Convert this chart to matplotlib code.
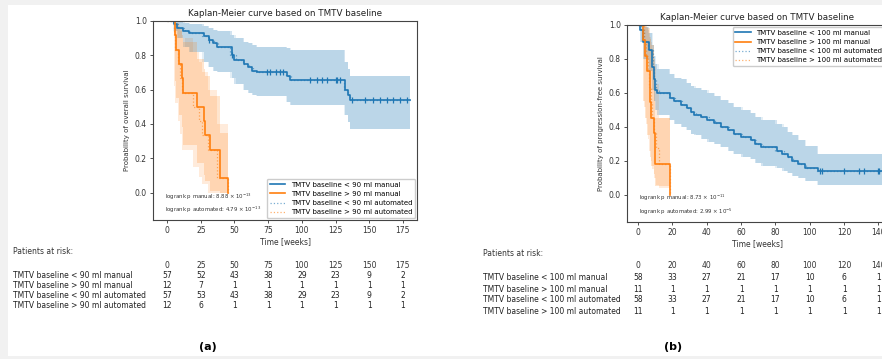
import numpy as np
import matplotlib.pyplot as plt
import matplotlib.transforms as mtransforms
from matplotlib.patches import Rectangle

"""
Data read off the picture
"""
# panel (a): overall survival, TMTV baseline 90 ml
a_low_man_t = [0, 5, 7, 12, 16, 27, 31, 34, 37, 48, 50, 57, 60, 63, 67, 89, 91, 132, 134, 136]
a_low_man_s = [1.0, .98, .96, .94, .93, .91, .89, .87, .85, .80, .77, .75, .73, .71, .70, .68, .655, .60, .57, .54]
a_low_man_hi = [1.0, 1.0, 1.0, .99, .98, .97, .96, .95, .94, .92, .90, .88, .87, .86, .85, .84, .83, .76, .72, .68]
a_low_man_lo = [1.0, .94, .90, .85, .82, .76, .73, .71, .70, .67, .63, .60, .58, .57, .56, .53, .51, .45, .41, .37]
a_low_cens = [31, 48, 74, 76.5, 81, 84, 86, 106, 111, 115, 118.5, 125, 126, 128.5,
              137, 147, 153, 158, 163, 168, 173, 178]
a_low_end = 180

a_low_aut_t = [0, 4, 8, 13, 17, 26, 30, 35, 38, 47, 51, 56, 61, 64, 66, 88, 92, 131, 134, 136]
a_low_aut_s = [1.0, .98, .96, .94, .93, .91, .89, .87, .85, .80, .77, .75, .73, .71, .70, .68, .655, .60, .57, .54]
a_low_aut_hi = [1.0, 1.0, 1.0, .99, .98, .97, .96, .95, .94, .92, .90, .88, .87, .86, .85, .84, .83, .76, .72, .68]
a_low_aut_lo = [1.0, .94, .90, .85, .82, .76, .73, .71, .70, .67, .63, .60, .58, .57, .56, .53, .51, .45, .41, .37]

a_high_man_t = [0, 5.5, 6.5, 8.5, 11, 12, 22, 27, 28, 32, 39, 45.5]
a_high_man_s = [1.0, .917, .833, .75, .667, .583, .5, .417, .333, .25, .083, 0]
a_high_man_hi = [1.0, 1.0, .99, .96, .92, .88, .78, .72, .68, .56, .35, 0]
a_high_man_lo = [1.0, .65, .55, .45, .38, .28, .17, .10, .07, .01, 0, 0]

a_high_aut_t = [0, 5, 6, 8, 9.5, 11, 19, 24, 26, 30, 37, 45.5]
a_high_aut_s = [1.0, .917, .833, .75, .667, .583, .5, .417, .333, .25, .083, 0]
a_high_aut_hi = [1.0, 1.0, .99, .97, .94, .90, .82, .76, .70, .60, .40, 0]
a_high_aut_lo = [1.0, .62, .52, .42, .34, .25, .15, .09, .05, 0, 0, 0]

a_ticks = [0, 25, 50, 75, 100, 125, 150, 175]
a_rows = ["TMTV baseline < 90 ml manual", "TMTV baseline > 90 ml manual",
          "TMTV baseline < 90 ml automated", "TMTV baseline > 90 ml automated"]
a_risk = [[57, 52, 43, 38, 29, 23, 9, 2],
          [12, 7, 1, 1, 1, 1, 1, 1],
          [57, 53, 43, 38, 29, 23, 9, 2],
          [12, 6, 1, 1, 1, 1, 1, 1]]
a_p = [r"logrank p manual: 8.88 $\times\ 10^{-13}$", r"logrank p automated: 4.79 $\times\ 10^{-13}$"]

# panel (b): progression-free survival, TMTV baseline 100 ml
b_low_man_t = [0, 1.2, 3.1, 6.1, 8.0, 9.0, 10, 11, 18.8, 20.8, 24.7, 28.6, 30.6, 32.5, 36.5, 40.4,
               44.3, 48.2, 52.2, 56.1, 60, 65.9, 67.8, 71.8, 81, 84, 87.5, 89.4, 93.3, 97.3, 105]
b_low_man_s = [1, .97, .90, .85, .75, .68, .62, .60, .57, .55, .53, .51, .49, .47, .46, .44,
               .42, .40, .38, .36, .34, .32, .30, .28, .26, .24, .22, .20, .18, .16, .14]
b_low_man_hi = [1, 1, .99, .95, .88, .82, .77, .74, .71, .69, .68, .66, .64, .63, .62, .60,
                .58, .56, .54, .52, .50, .48, .46, .44, .42, .40, .37, .35, .32, .29, .24]
b_low_man_lo = [1, .90, .80, .73, .62, .55, .50, .47, .44, .42, .40, .38, .36, .35, .33, .31,
                .30, .28, .26, .24, .22, .21, .19, .17, .16, .14, .13, .11, .10, .08, .06]
b_low_cens = [106, 107, 120, 128.5, 131.5, 139.5, 140.5]
b_low_end = 142

b_low_aut_t = [0, 1.5, 3.5, 5.5, 8.5, 9.5, 10.5, 12, 18, 21.5, 25.5, 28, 31, 33.5, 37, 41,
               45, 47.5, 53, 55, 61, 65, 68.5, 72.5, 80, 85, 86.5, 90, 94, 98, 104]
b_low_aut_s = b_low_man_s
b_low_aut_hi = b_low_man_hi
b_low_aut_lo = b_low_man_lo

b_high_man_t = [0, 3.1, 4.1, 5.1, 6.7, 7.1, 7.5, 9.0, 9.6, 10, 18.4]
b_high_man_s = [1, .909, .818, .727, .636, .545, .455, .364, .273, .182, 0]
b_high_man_hi = [1, 1, 1, .98, .95, .92, .88, .80, .70, .45, 0]
b_high_man_lo = [1, .55, .45, .35, .28, .22, .17, .12, .08, .05, 0]

b_high_aut_t = [0, 3.5, 4.5, 5.5, 6.5, 7.5, 8, 9.5, 10.5, 12, 18.4]
b_high_aut_s = b_high_man_s
b_high_aut_hi = [1, 1, .99, .97, .93, .90, .85, .76, .65, .45, 0]
b_high_aut_lo = [1, .52, .42, .33, .26, .20, .15, .10, .06, .04, 0]

b_ticks = [0, 20, 40, 60, 80, 100, 120, 140]
b_rows = ["TMTV baseline < 100 ml manual", "TMTV baseline > 100 ml manual",
          "TMTV baseline < 100 ml automated", "TMTV baseline > 100 ml automated"]
b_risk = [[58, 33, 27, 21, 17, 10, 6, 1],
          [11, 1, 1, 1, 1, 1, 1, 1],
          [58, 33, 27, 21, 17, 10, 6, 1],
          [11, 1, 1, 1, 1, 1, 1, 1]]
b_p = [r"logrank p manual: 8.73 $\times\ 10^{-11}$", r"logrank p automated: 2.99 $\times\ 10^{-5}$"]

title = "Kaplan-Meier curve based on TMTV baseline"
BLUE = '#1f77b4'
ORANGE = '#ff7f0e'

"""
Helpers
"""
def km(ax, t, s, lo, hi, t_end, color, ls, lw, line_alpha, band_alpha, cens=None):
    tt = list(t) + [max(t_end, t[-1])]
    ss = list(s) + [s[-1]]
    ax.fill_between(tt, list(lo) + [lo[-1]], list(hi) + [hi[-1]], step='post',
                    color=color, alpha=band_alpha, lw=0)
    ax.step(tt, ss, where='post', color=color, ls=ls, lw=lw, alpha=line_alpha)
    if cens:
        idx = np.searchsorted(t, cens, side='right') - 1
        ax.plot(cens, np.array(s)[idx], '|', color=color, ms=5, mew=0.9)


def style(ax, ticks, xlim, ylabel):
    ax.set_xlim(*xlim)
    ax.set_ylim(-0.16, 1.0)
    ax.set_xticks(ticks)
    ax.set_yticks([0, 0.2, 0.4, 0.6, 0.8, 1.0])
    ax.tick_params(labelsize=5.5, length=2.5, width=0.6, pad=2, colors='#333333')
    ax.set_title(title, fontsize=6.3, pad=3.5, color='#222222')
    ax.set_xlabel("Time [weeks]", fontsize=5.5, labelpad=1.5, color='#333333')
    ax.set_ylabel(ylabel, fontsize=5, labelpad=3, color='#333333')
    for sp in ax.spines.values():
        sp.set_linewidth(0.8)
        sp.set_color('#444444')


def legend(ax, rows, loc):
    ax.plot([], [], color=BLUE, lw=1.2, label=rows[0])
    ax.plot([], [], color=ORANGE, lw=1.2, label=rows[1])
    ax.plot([], [], color=BLUE, lw=0.9, ls=':', alpha=0.6, label=rows[2])
    ax.plot([], [], color=ORANGE, lw=0.9, ls=':', alpha=0.6, label=rows[3])
    ax.legend(loc=loc, fontsize=5, handlelength=2.2, borderaxespad=0.3,
              labelspacing=0.45, framealpha=1, edgecolor='#cccccc', borderpad=0.4)


def risk_table(ax, ticks, rows, risk, x_label, y_head, y_rows):
    tr = mtransforms.blended_transform_factory(ax.transData, fig.transFigure)
    fig.text(x_label / 882, 1 - (y_head - 13) / 359, "Patients at risk:", fontsize=5.5,
             color='#333333', va='center')
    for x in ticks:
        ax.text(x, 1 - y_head / 359, str(x), transform=tr, fontsize=5.5, ha='center',
                va='center', color='#333333')
    for r, (name, vals) in enumerate(zip(rows, risk)):
        y = 1 - y_rows[r] / 359
        fig.text(x_label / 882, y, name, fontsize=5.5, va='center', color='#222222')
        for x, v in zip(ticks, vals):
            ax.text(x, y, str(v), transform=tr, fontsize=5.5, ha='center', va='center',
                    color='#222222')


"""
Figure
"""
fig = plt.figure(figsize=(8.82, 3.59), dpi=100, facecolor='#f1f1f1')
fig.patches.append(Rectangle((8 / 882, 3 / 359), 1, 1 - 8 / 359, transform=fig.transFigure,
                             facecolor='white', edgecolor='none', zorder=-10))

# panel (a)
ax1 = fig.add_axes([153 / 882, 1 - 220 / 359, 264 / 882, 199 / 359])
km(ax1, a_low_aut_t, a_low_aut_s, a_low_aut_lo, a_low_aut_hi, a_low_end, BLUE, ':', 0.9, 0.6, 0.12)
km(ax1, a_high_aut_t, a_high_aut_s, a_high_aut_lo, a_high_aut_hi, 0, ORANGE, ':', 0.9, 0.6, 0.15)
km(ax1, a_low_man_t, a_low_man_s, a_low_man_lo, a_low_man_hi, a_low_end, BLUE, '-', 1.2, 1, 0.2,
   a_low_cens)
km(ax1, a_high_man_t, a_high_man_s, a_high_man_lo, a_high_man_hi, 0, ORANGE, '-', 1.2, 1, 0.2)
style(ax1, a_ticks, (-10.5, 185.5), "Probability of overall survival")
legend(ax1, a_rows, 'lower right')
ax1.text(0.045, 0.084, "\n".join(a_p), transform=ax1.transAxes, fontsize=3.9, color='#333333',
         va='center', linespacing=1.5)
risk_table(ax1, a_ticks, a_rows, a_risk, 13, 265, [276, 286, 296, 305])

# panel (b)
ax2 = fig.add_axes([627 / 882, 1 - 222 / 359, 260 / 882, 197 / 359])
km(ax2, b_low_aut_t, b_low_aut_s, b_low_aut_lo, b_low_aut_hi, b_low_end, BLUE, ':', 0.9, 0.6, 0.12)
km(ax2, b_high_aut_t, b_high_aut_s, b_high_aut_lo, b_high_aut_hi, 0, ORANGE, ':', 0.9, 0.6, 0.15)
km(ax2, b_low_man_t, b_low_man_s, b_low_man_lo, b_low_man_hi, b_low_end, BLUE, '-', 1.2, 1, 0.2,
   b_low_cens)
km(ax2, b_high_man_t, b_high_man_s, b_high_man_lo, b_high_man_hi, 0, ORANGE, '-', 1.2, 1, 0.2)
style(ax2, b_ticks, (-6.5, 145), "Probability of progression-free survival")
legend(ax2, b_rows, 'upper right')
ax2.text(0.045, 0.086, "\n".join(b_p), transform=ax2.transAxes, fontsize=3.9, color='#333333',
         va='center', linespacing=1.5)
risk_table(ax2, b_ticks, b_rows, b_risk, 483, 266, [277, 289, 300, 312])

# captions
fig.text(208 / 882, 1 - 347 / 359, "(a)", fontsize=8, fontweight='bold', ha='center', va='center',
         family='Liberation Sans Narrow')
fig.text(673 / 882, 1 - 347 / 359, "(b)", fontsize=8, fontweight='bold', ha='center', va='center',
         family='Liberation Sans Narrow')

fig.savefig("out.png", dpi=100, facecolor=fig.get_facecolor())
